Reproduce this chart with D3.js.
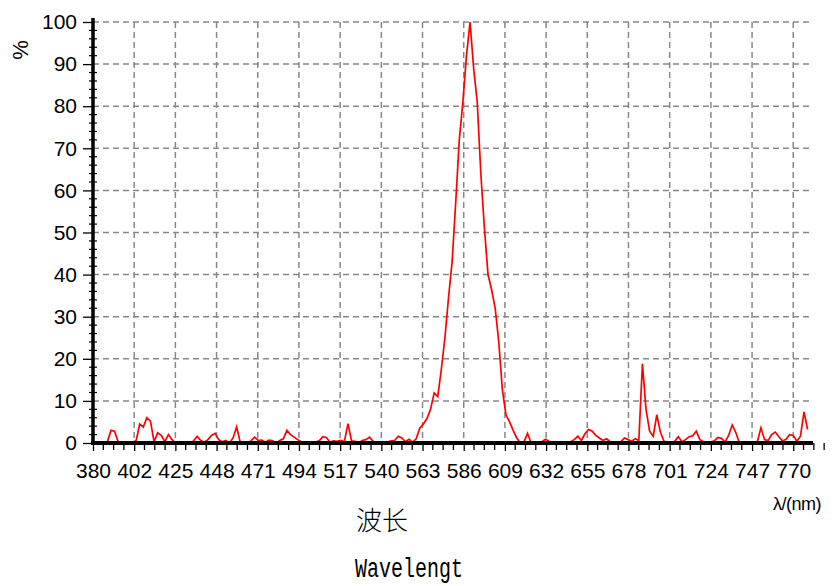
<!DOCTYPE html>
<html>
<head>
<meta charset="utf-8">
<script src="https://cdn.jsdelivr.net/npm/d3@7"></script>
<style>
  body { margin: 0; background: #fff; }
  svg { display: block; }
</style>
</head>
<body>
<svg id="chart" width="839" height="586"></svg>
<script>
// spectrum, one reading every 2 nm starting at 380 nm
const startNm = 380;
const stepNm = 2;
const intensity = [
  0, 0, 0, 0, 0.3, 3, 2.8, 0.3, 0, 0,          // 380-398
  0, 0.2, 0.5, 4.5, 3.8, 6, 5.2, 0.3, 2.4, 1.8, // 400-418
  0.3, 2, 0.8, 0, 0, 0, 0, 0, 0.5, 1.6,         // 420-438
  0.6, 0.2, 0.8, 1.8, 2.3, 0.8, 0.3, 0.6, 0, 1.2, // 440-458
  3.8, 0.2, 0, 0, 0.5, 1.4, 0.6, 0.7, 0.2, 0.7, // 460-478
  0.5, 0, 0.6, 1, 3, 2, 1.4, 0.8, 0.3, 0,       // 480-498
  0, 0, 0.2, 0.5, 1.5, 1.3, 0.2, 0.5, 0.4, 0.6, // 500-518
  0.3, 4.6, 0.5, 0.4, 0, 0.6, 0.8, 1.4, 0.4, 0, // 520-538
  0.3, 0.3, 0.2, 0.5, 0.6, 1.6, 1.2, 0.3, 0.9, 0.2, // 540-558
  1, 3.5, 4.5, 5.8, 8, 11.9, 11, 17.5, 25, 34.5, // 560-578
  43, 57, 72, 81, 92, 100, 89, 81, 64, 51,      // 580-598
  40, 36.4, 32, 24, 12.6, 6.7, 5, 3, 1.2, 0,    // 600-618
  0.2, 2.3, 0, 0, 0, 0.3, 0.9, 0.4, 0, 0,       // 620-638
  0, 0, 0.2, 0.3, 0.8, 1.6, 0.6, 2.2, 3.2, 2.8, // 640-658
  1.8, 1.2, 0.6, 1, 0.3, 0, 0, 0.3, 1.2, 0.8,   // 660-678
  0.4, 1, 0.6, 18.8, 8, 2.8, 1.6, 6.7, 2.6, 0.4, // 680-698
  0.3, 0, 0.4, 1.5, 0.3, 0.8, 1.5, 1.7, 2.8, 0.8, // 700-718
  0.3, 0, 0.2, 0.5, 1.3, 1.1, 0.2, 1.8, 4.3, 2.5, // 720-738
  0, 0, 0, 0, 0, 0.3, 3.6, 0.8, 0.6, 2,         // 740-758
  2.6, 1.5, 0.5, 0.9, 2, 1.8, 0.4, 1.6, 7.4, 3.2  // 760-778
];
const wavelengths = intensity.map((_, i) => startNm + i * stepNm);

const xTickLabels = ["380", "402", "425", "448", "471", "494", "517", "540", "563",
                     "586", "609", "632", "655", "678", "701", "724", "747", "770"];
const yTicks = [0, 10, 20, 30, 40, 50, 60, 70, 80, 90, 100];

const svg = d3.select("#chart");

const x = d3.scaleLinear().domain([380, 781]).range([93, 813]);
const y = d3.scaleLinear().domain([0, 100]).range([443, 22]);

// labels sit on equal steps between the first and last label
const xFirst = +xTickLabels[0], xLast = +xTickLabels[xTickLabels.length - 1];
const xStep = (xLast - xFirst) / (xTickLabels.length - 1);
const xTickVals = xTickLabels.map((_, i) => xFirst + i * xStep);
const xMinorVals = [];
xTickVals.forEach(v => { for (let k = 1; k < 4; k++) xMinorVals.push(v + k * xStep / 4); });
const yMinorVals = [];
for (let v = 0; v < 100; v += 2) if (v % 10 != 0) yMinorVals.push(v);

// grid
const grid = svg.append("g")
    .attr("stroke", "#888")
    .attr("stroke-width", 1.5)
    .attr("stroke-dasharray", "6,4");

grid.selectAll("line.h")
    .data(yTicks.filter(d => d > 0))
    .join("line")
    .attr("class", "h")
    .attr("x1", x(380)).attr("x2", 810)
    .attr("y1", d => y(d)).attr("y2", d => y(d));

grid.selectAll("line.v")
    .data(xTickVals.slice(1))
    .join("line")
    .attr("class", "v")
    .attr("x1", d => x(d)).attr("x2", d => x(d))
    .attr("y1", y(100)).attr("y2", y(0));

// spectrum
const line = d3.line()
    .x((d, i) => x(wavelengths[i]))
    .y(d => y(d));

svg.append("path")
    .datum(intensity)
    .attr("fill", "none")
    .attr("stroke", "#ff0000")
    .attr("stroke-width", 1.7)
    .attr("d", line);

// axes
const tickFont = "'Liberation Sans', Arial, sans-serif";

const xAxis = svg.append("g")
    .attr("transform", `translate(0,${y(0)})`)
    .call(d3.axisBottom(x)
        .tickValues(xTickVals)
        .tickFormat((d, i) => xTickLabels[i])
        .tickSize(8)
        .tickSizeOuter(0)
        .tickPadding(12));

xAxis.select(".domain")
    .attr("stroke", "#000")
    .attr("stroke-width", 4)
    .attr("d", `M${x(380) - 2},0H${x(781)}`);
xAxis.selectAll(".tick line").attr("stroke", "#000").attr("stroke-width", 1.3);
xAxis.selectAll(".tick text")
    .style("font-family", tickFont)
    .style("font-size", "21px")
    .attr("fill", "#000");

svg.append("g")
    .attr("transform", `translate(0,${y(0)})`)
    .selectAll("line")
    .data(xMinorVals)
    .join("line")
    .attr("x1", d => x(d)).attr("x2", d => x(d))
    .attr("y1", 0).attr("y2", 7)
    .attr("stroke", "#000")
    .attr("stroke-width", 1.3);

const yAxis = svg.append("g")
    .attr("transform", `translate(${x(380)},0)`)
    .call(d3.axisLeft(y)
        .tickValues(yTicks)
        .tickSize(10)
        .tickSizeOuter(0)
        .tickPadding(6));

yAxis.select(".domain")
    .attr("stroke", "#000")
    .attr("stroke-width", 3.5)
    .attr("d", `M0,${y(100) - 4}V${y(0) + 2}`);
yAxis.selectAll(".tick line").attr("stroke", "#000").attr("stroke-width", 1.3);
yAxis.selectAll(".tick text")
    .style("font-family", tickFont)
    .style("font-size", "21px")
    .attr("fill", "#000");

svg.append("g")
    .selectAll("line")
    .data(yMinorVals)
    .join("line")
    .attr("x1", x(380) - 4).attr("x2", x(380) + 4)
    .attr("y1", d => y(d)).attr("y2", d => y(d))
    .attr("stroke", "#000")
    .attr("stroke-width", 1.2);

// titles
svg.append("text")
    .attr("transform", "translate(28,50) rotate(-90)")
    .attr("text-anchor", "middle")
    .style("font-family", tickFont)
    .style("font-size", "22px")
    .text("%");

svg.append("text")
    .attr("x", 773).attr("y", 510)
    .style("font-family", tickFont)
    .style("font-size", "18px")
    .style("letter-spacing", "-0.5px")
    .text("λ/(nm)");

svg.append("text")
    .attr("x", 382).attr("y", 530)
    .attr("text-anchor", "middle")
    .style("font-family", "'Noto Sans CJK SC', sans-serif")
    .style("font-size", "26px")
    .style("font-weight", 300)
    .text("波长");

svg.append("text")
    .attr("x", 355).attr("y", 577)
    .attr("textLength", 108)
    .attr("lengthAdjust", "spacingAndGlyphs")
    .style("font-family", "'Courier New', 'Liberation Mono', monospace")
    .style("font-size", "27px")
    .text("Wavelengt");
</script>
</body>
</html>
